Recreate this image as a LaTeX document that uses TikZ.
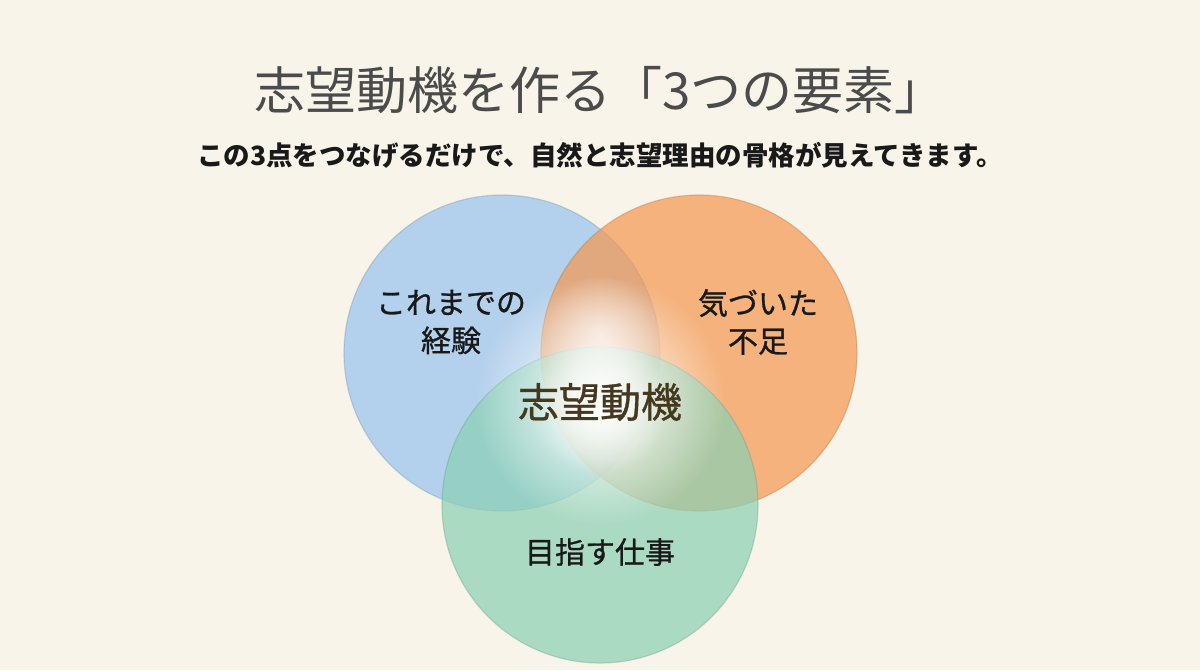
\documentclass[tikz,border=0pt]{standalone}
\usepackage{fontspec}
\newfontfamily\cjk{Noto Sans CJK JP}
\newfontfamily\cjkm[FakeBold=0.9]{Noto Sans CJK JP}
\usetikzlibrary{fadings}
\tikzfading[name=glowfade, inner color=transparent!0, outer color=transparent!100]
\definecolor{bg}{RGB}{248,244,233}
\definecolor{cblue}{RGB}{150,194,238}
\definecolor{corange}{RGB}{245,150,79}
\definecolor{cgreen}{RGB}{139,208,180}
\definecolor{titlegray}{RGB}{75,75,75}
\definecolor{centerbrown}{RGB}{70,56,30}
\tikzset{
  setcircle/.style={fill=#1, fill opacity=0.7, draw=#1!75!black, draw opacity=0.35, line width=1.2pt},
  lbl/.style={font=\cjkm\fontsize{30}{38}\selectfont, text=black!90, align=center, inner sep=0pt},
}
\begin{document}
\begin{tikzpicture}[x=1pt,y=-1pt]
\fill[bg] (0,0) rectangle (1200,670);
\useasboundingbox (0,0) rectangle (1200,670);
\node[font=\cjk\fontsize{51}{58}\selectfont, text=titlegray, inner sep=0pt] (title) at (600,90) {志望動機を作る「3つの要素」};
\node[font=\cjk\bfseries\fontsize{26.5}{30}\selectfont, text=black!90, inner sep=0pt] (sub) at (600,155) {この3点をつなげるだけで、自然と志望理由の骨格が見えてきます。};
\path[setcircle=cblue] (502,353) circle (158);
\path[setcircle=corange] (699,353) circle (158);
\path[setcircle=cgreen] (600,505) circle (158);
\fill[white, path fading=glowfade, fill opacity=1] (600,400) circle (125);
\fill[white, path fading=glowfade, fill opacity=0.8] (600,405) circle (70);
\fill[white, path fading=glowfade, fill opacity=0.6] (600,335) circle (60);
\node[lbl] (exp) at (451,322) {これまでの\\経験};
\node[lbl] (lack) at (758,322) {気づいた\\不足};
\node[lbl, font=\cjkm\fontsize{41}{46}\selectfont, text=centerbrown] (motive) at (600,402) {志望動機};
\node[lbl] (job) at (600,552) {目指す仕事};
\end{tikzpicture}
\end{document}
